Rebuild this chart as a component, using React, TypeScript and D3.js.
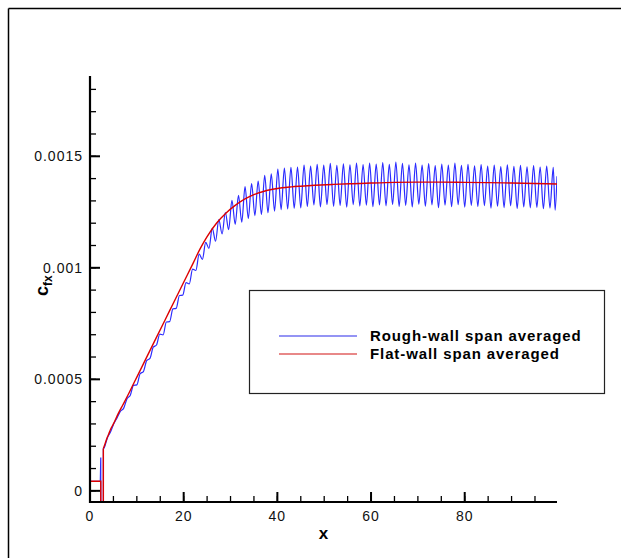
import React from "react";
import * as d3 from "d3";

// skin-friction values are stored in units of 1e-5
const CF_UNIT = 1e-5;

const flatX = [0, 2.3, 2.3, 2.85, 2.85, 3.2, 3.6, 4.0, 4.4, 5, 6, 7, 8, 9, 10, 12, 14, 16, 18, 20, 22, 23.5, 25, 27, 29, 31, 33, 35, 37, 39, 41, 43, 45, 48, 52, 56, 60, 65, 70, 75, 80, 85, 90, 95, 99.7];
const flatCf = [4.3, 4.3, -10, -10, 19, 21, 23.5, 25.5, 27.6, 30, 34.5, 38.5, 42.5, 46.8, 51, 59.5, 68, 76.5, 85, 93.5, 102, 108.5, 114, 120, 124.5, 128, 130.8, 132.8, 134.2, 135.2, 135.9, 136.3, 136.6, 137, 137.4, 137.7, 138, 138.3, 138.4, 138.4, 138.3, 138.2, 138.0, 137.8, 137.6];

const roughX = [0, 2.2, 2.3, 2.3, 2.85, 2.85,
  3.0, 3.7, 4.4, 5.1, 5.8, 6.5, 7.2, 7.9, 8.6, 9.3, 10.0, 10.7, 11.4, 12.1, 12.8, 13.5, 14.2, 14.9, 15.6, 16.3, 17.0, 17.7, 18.4, 19.1, 19.8,
  20.5, 21.2, 21.9, 22.6, 23.3, 24.0, 24.7, 25.4, 26.1, 26.8, 27.5, 28.2, 28.9, 29.6, 30.3, 31.0, 31.7, 32.4, 33.1, 33.8, 34.5, 35.2, 35.9,
  36.6, 37.3, 38.0, 38.7, 39.4, 40.1, 40.8, 41.5, 42.2, 42.9, 43.6, 44.3, 45.0, 45.7, 46.4, 47.1, 47.8, 48.5, 49.2, 49.9, 50.6, 51.3, 52.0,
  52.7, 53.4, 54.1, 54.8, 55.5, 56.2, 56.9, 57.6, 58.3, 59.0, 59.7, 60.4, 61.1, 61.8, 62.5, 63.2, 63.9, 64.6, 65.3, 66.0, 66.7, 67.4, 68.1,
  68.8, 69.5, 70.2, 70.9, 71.6, 72.3, 73.0, 73.7, 74.4, 75.1, 75.8, 76.5, 77.2, 77.9, 78.6, 79.3, 80.0, 80.7, 81.4, 82.1, 82.8, 83.5, 84.2,
  84.9, 85.6, 86.3, 87.0, 87.7, 88.4, 89.1, 89.8, 90.5, 91.2, 91.9, 92.6, 93.3, 94.0, 94.7, 95.4, 96.1, 96.8, 97.5, 98.2, 98.9, 99.3, 99.7];
const roughCf = [4.3, 4.3, 15, -10, -10, 19,
  19.2, 23.7, 26.5, 30.2, 32.8, 35.7, 37.1, 41.3, 42.9, 47.3, 47.5, 52.5, 53.5, 58.4, 59.4, 64.4, 65.4, 70.3, 69.9, 75.7, 75.85, 81.6, 81.8, 87.6, 87.75,
  93.4, 92.8, 99.4, 98.8, 106.1, 103.8, 111.4, 108.7, 117.8, 111.9, 121.6, 115.2, 124.8, 117.1, 130.3, 119.5, 132.5, 120.5, 136.4, 122.1, 137.8, 123.4, 138.9,
  123.9, 141.4, 124.7, 142.1, 125.4, 144.3, 126.1, 144.7, 126.4, 145.0, 126.7, 145.2, 126.9, 146.1, 127.5, 145.6, 128.2, 146.4, 127.3, 146.0, 128.4, 146.8, 127.6,
  145.9, 128.0, 146.6, 127.2, 146.2, 128.3, 147.0, 127.7, 146.3, 128.1, 146.9, 127.4, 146.5, 128.2, 147.2, 127.8, 146.4, 128.4, 147.4, 127.5, 146.8, 128.0, 146.2,
  127.3, 147.0, 128.5, 146.0, 127.6, 146.7, 128.2, 145.8, 127.0, 146.5, 128.1, 146.1, 127.4, 146.9, 128.3, 145.9, 127.2, 146.4, 128.0, 145.7, 127.5, 146.3, 127.9,
  145.6, 126.8, 146.0, 127.6, 145.4, 127.0, 146.2, 127.8, 145.5, 126.6, 145.9, 127.3, 145.3, 126.9, 145.8, 127.1, 145.2, 126.5, 145.6, 126.8, 145.0, 125.8, 141];

const xTickValues = [0, 20, 40, 60, 80];
const xTickLabels = ["0", "20", "40", "60", "80"];
const yTickValues = [0, 0.0005, 0.001, 0.0015];
const yTickLabels = ["0", "0.0005", "0.001", "0.0015"];
const seriesLabels = ["Rough-wall span averaged", "Flat-wall span averaged"];
const seriesColors = ["#2b2bff", "#dd0000"];
const legendLineColors = ["#7070f0", "#e06060"];

export default function App() {
  const W = 623, H = 558;
  const left = 90, right = 557, top = 76, bottom = 502;
  const x = d3.scaleLinear().domain([0, 99.7]).range([left, right]);
  const y = d3.scaleLinear().domain([-0.00005, 0.00186]).range([bottom, top]);

  const rough: [number, number][] = roughX.map((v, i) => [v, roughCf[i] * CF_UNIT] as [number, number]).filter((p) => !isNaN(p[1]));
  const flat: [number, number][] = flatX.map((v, i) => [v, flatCf[i] * CF_UNIT] as [number, number]);

  const lin = d3.line<[number, number]>().x((d) => x(d[0])).y((d) => y(d[1]));
  const smooth = d3.line<[number, number]>().x((d) => x(d[0])).y((d) => y(d[1])).curve(d3.curveMonotoneX);

  const roughStart = lin(rough.slice(0, 6)) || "";
  const roughRest = smooth(rough.slice(5)) || "";
  const flatStart = lin(flat.slice(0, 5)) || "";
  const flatRest = smooth(flat.slice(4)) || "";

  const xMinor = d3.range(0, 100, 5).filter((v) => v <= 99.7);
  const yMinor = d3.range(0, 19).map((i) => i * 0.0001);

  const font = "'Liberation Sans', Arial, Helvetica, sans-serif";

  return (
    <svg width={W} height={H} style={{ position: "absolute", left: 0, top: 0, background: "#fff" }} fontFamily={font}>
      <rect x={0} y={0} width={W} height={H} fill="#fff" />
      {/* outer frame */}
      <line x1={8.5} y1={8.5} x2={621} y2={8.5} stroke="#000" strokeWidth={1.5} />
      <line x1={8.5} y1={8.5} x2={8.5} y2={H} stroke="#000" strokeWidth={1.5} />

      <defs>
        <clipPath id="plotClip">
          <rect x={left} y={top} width={right - left} height={bottom - top} />
        </clipPath>
      </defs>

      <g clipPath="url(#plotClip)" fill="none">
        <path d={roughStart} stroke={seriesColors[0]} strokeWidth={1.2} />
        <path d={roughRest} stroke={seriesColors[0]} strokeWidth={1.2} />
        <path d={flatStart} stroke={seriesColors[1]} strokeWidth={1.4} />
        <path d={flatRest} stroke={seriesColors[1]} strokeWidth={1.4} />
      </g>

      {/* axes */}
      <line x1={left} y1={top} x2={left} y2={bottom + 1} stroke="#000" strokeWidth={2.2} />
      <line x1={left - 1} y1={bottom} x2={right} y2={bottom} stroke="#000" strokeWidth={2.2} />

      {yMinor.map((v, i) => (
        <line key={"ym" + i} x1={left} x2={left + 6} y1={y(v)} y2={y(v)} stroke="#000" strokeWidth={1.3} />
      ))}
      {yTickValues.map((v, i) => (
        <g key={"yt" + i}>
          <line x1={left} x2={left + 10} y1={y(v)} y2={y(v)} stroke="#000" strokeWidth={2} />
          <text x={left - 7} y={y(v) + 5} textAnchor="end" fontSize={14} letterSpacing={1} fill="#111">{yTickLabels[i]}</text>
        </g>
      ))}

      {xMinor.map((v, i) => (
        <line key={"xm" + i} x1={x(v)} x2={x(v)} y1={bottom} y2={bottom - 6} stroke="#000" strokeWidth={1.3} />
      ))}
      {xTickValues.map((v, i) => (
        <g key={"xt" + i}>
          <line x1={x(v)} x2={x(v)} y1={bottom} y2={bottom - 10} stroke="#000" strokeWidth={2} />
          <text x={x(v)} y={521} textAnchor="middle" fontSize={14} letterSpacing={1} fill="#111">{xTickLabels[i]}</text>
        </g>
      ))}

      <text x={(left + right) / 2} y={539} textAnchor="middle" fontSize={17} fontWeight="bold" fill="#000">x</text>
      <text transform="translate(48,296) rotate(-90)" fontWeight="bold" fill="#000">
        <tspan fontSize={18}>c</tspan>
        <tspan fontSize={12} dy={4}>fx</tspan>
      </text>

      {/* legend */}
      <rect x={249.5} y={290.5} width={355} height={103} fill="#fff" stroke="#222" strokeWidth={1.2} />
      {seriesLabels.map((lab, i) => (
        <g key={"lg" + i}>
          <line x1={279} x2={357} y1={336 + i * 18} y2={336 + i * 18} stroke={legendLineColors[i]} strokeWidth={1.3} />
          <text x={370} y={341 + i * 18} fontSize={15} fontWeight="bold" letterSpacing={0.9} fill="#000">{lab}</text>
        </g>
      ))}
    </svg>
  );
}
